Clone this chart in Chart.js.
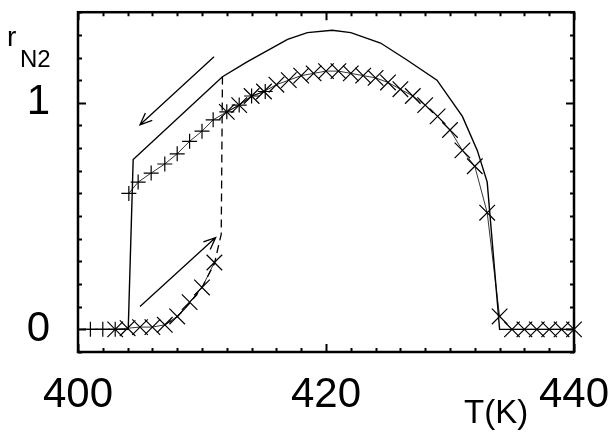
<!DOCTYPE html>
<html>
<head>
<meta charset="utf-8">
<script src="https://cdn.jsdelivr.net/npm/chart.js@4.4.0/dist/chart.umd.min.js"></script>
<style>
    html, body { margin: 0; padding: 0; background: #fff; }
    canvas { display: block; }
</style>
</head>
<body>
<canvas id="rn2-chart" width="608" height="432"></canvas>
<script>
// Simulated curve (solid line)
const simTemp = [400, 404.05, 404.45, 411.65, 413.6, 416.9, 418.5, 420.5, 422, 424.4, 426.5, 428.95, 431, 432.2, 433, 434, 440];
const simR    = [0, 0, 0.75, 1.115, 1.18, 1.28, 1.31, 1.32, 1.31, 1.264, 1.19, 1.10, 0.94, 0.79, 0.65, 0, 0];

// Heating jump (dashed line)
const jumpTemp = [407, 408, 409, 410, 411, 411.55, 411.65];
const jumpR    = [0.02, 0.055, 0.115, 0.185, 0.29, 0.42, 1.115];

// Cooling points (+), null marks a break in the thin line
const coolTemp = [401, 402, 403, 403.5, 404.1, 404.85, 405.9, 407, 408, 409, 410, 410.9, 412, 413, 414, 415.1];
const coolR    = [0, 0, 0, null, 0.60, 0.65, 0.69, 0.73, 0.775, 0.83, 0.875, 0.925, 0.96, 0.99, 1.03, 1.05];

// Heating points (x)
const heatTemp = [403, 404, 405, 406, 407, 408, 409, 410, 411, 411.5, 412, 413, 414, 415, 416, 417, 418, 419, 420, 421, 422,
                  423, 424, 425, 426, 427, 428, 429, 430, 431, 432, 433, 434, 435, 436, 437, 438, 439, 440];
const heatR    = [0, 0.005, 0.01, 0.01, 0.02, 0.057, 0.12, 0.185, 0.295, null, 0.96, 0.99, 1.03, 1.05, 1.08, 1.10, 1.12, 1.13, 1.14, 1.14, 1.13,
                  1.12, 1.11, 1.09, 1.06, 1.03, 0.99, 0.94, 0.88, 0.79, 0.72, 0.515, 0.057, 0, 0, 0, 0, 0, 0];

// Axis ticks
const xMajor = [400, 420, 440];
const yMajor = [0, 1];

// Arrows [fromT, fromR, toT, toR]
const arrowCool = [410.97, 1.203, 405.0, 0.903];
const arrowHeat = [405.0, 0.101, 411.1, 0.405];

const FONT = '"Liberation Sans", Arial, Helvetica, sans-serif';

class RN2Chart {
    constructor() {
        this.chart = null;
    }

    toPoints(xs, ys) {
        return xs.map((x, i) => ({ x: x, y: ys[i] }));
    }

    isOneOf(v, list) {
        return list.some(m => Math.abs(v - m) < 1e-6);
    }

    // Fixed scale sizes, no extra label padding
    fitScale(size) {
        return s => {
            if (s.isHorizontal()) s.height = size; else s.width = size;
            s.paddingLeft = 0;
            s.paddingRight = 0;
            s.paddingTop = 0;
            s.paddingBottom = 0;
        };
    }

    // Frame, inward ticks, arrows and axis titles
    framePlugin() {
        const self = this;
        return {
            id: 'frame',
            afterDatasetsDraw(chart) {
                const ctx = chart.ctx;
                const a = chart.chartArea;
                const xs = chart.scales.x;
                const ys = chart.scales.y;
                ctx.save();
                ctx.strokeStyle = '#000';
                ctx.lineWidth = 2;
                ctx.beginPath();
                for (let t = 400; t <= 440.001; t += 2) {
                    const px = Math.round(xs.getPixelForValue(t)) + 0.5;
                    const len = self.isOneOf(t, xMajor) ? 8 : 4;
                    ctx.moveTo(px, a.bottom); ctx.lineTo(px, a.bottom - len);
                    ctx.moveTo(px, a.top); ctx.lineTo(px, a.top + len);
                }
                for (let k = -1; k <= 14; k++) {
                    const v = k / 10;
                    const py = Math.round(ys.getPixelForValue(v)) + 0.5;
                    const len = self.isOneOf(v, yMajor) ? 8 : 4;
                    ctx.moveTo(a.left, py); ctx.lineTo(a.left + len, py);
                    ctx.moveTo(a.right, py); ctx.lineTo(a.right - len, py);
                }
                ctx.stroke();
                ctx.lineWidth = 2.5;
                ctx.strokeRect(a.left, a.top, a.right - a.left, a.bottom - a.top);

                // arrows
                ctx.lineWidth = 1.3;
                [arrowCool, arrowHeat].forEach(arr => {
                    const x0 = xs.getPixelForValue(arr[0]), y0 = ys.getPixelForValue(arr[1]);
                    const x1 = xs.getPixelForValue(arr[2]), y1 = ys.getPixelForValue(arr[3]);
                    const ang = Math.atan2(y1 - y0, x1 - x0);
                    const head = 13, spread = 0.4;
                    ctx.beginPath();
                    ctx.moveTo(x0, y0); ctx.lineTo(x1, y1);
                    ctx.moveTo(x1 - head * Math.cos(ang - spread), y1 - head * Math.sin(ang - spread));
                    ctx.lineTo(x1, y1);
                    ctx.lineTo(x1 - head * Math.cos(ang + spread), y1 - head * Math.sin(ang + spread));
                    ctx.stroke();
                });

                // axis titles
                ctx.fillStyle = '#000';
                ctx.textBaseline = 'alphabetic';
                ctx.textAlign = 'left';
                ctx.font = '28px ' + FONT;
                ctx.fillText('r', 7, 46);
                ctx.font = '24px ' + FONT;
                ctx.fillText('N2', 20, 67);
                ctx.font = '33px ' + FONT;
                ctx.fillText('T(K)', 464, 423);
                ctx.restore();
            }
        };
    }

    render() {
        const ctx = document.getElementById('rn2-chart');
        if (!ctx) return;
        if (this.chart) {
            this.chart.destroy();
        }

        this.chart = new Chart(ctx, {
            type: 'line',
            data: {
                datasets: [
                    {
                        label: 'simulation',
                        data: this.toPoints(simTemp, simR),
                        borderColor: '#000',
                        borderWidth: 1.4,
                        pointRadius: 0,
                        tension: 0
                    },
                    {
                        label: 'heating jump',
                        data: this.toPoints(jumpTemp, jumpR),
                        borderColor: '#000',
                        borderWidth: 1.3,
                        borderDash: [8, 5],
                        pointRadius: 0,
                        tension: 0
                    },
                    {
                        label: 'cooling',
                        data: this.toPoints(coolTemp, coolR),
                        borderColor: '#000',
                        borderWidth: 0.8,
                        pointStyle: 'cross',
                        pointRadius: 7.5,
                        pointBorderWidth: 1.2,
                        pointBorderColor: '#000',
                        spanGaps: false
                    },
                    {
                        label: 'heating',
                        data: this.toPoints(heatTemp, heatR),
                        borderColor: '#000',
                        borderWidth: 0.8,
                        pointStyle: 'crossRot',
                        pointRadius: 11,
                        pointBorderWidth: 1.2,
                        pointBorderColor: '#000',
                        spanGaps: false
                    }
                ]
            },
            options: {
                responsive: false,
                animation: false,
                clip: false,
                layout: { padding: { top: 12, right: 34, left: 0, bottom: 0 } },
                plugins: {
                    legend: { display: false },
                    tooltip: { enabled: false }
                },
                scales: {
                    x: {
                        type: 'linear',
                        min: 400,
                        max: 440,
                        afterFit: this.fitScale(80),
                        grid: { display: false, drawTicks: false },
                        border: { display: false },
                        ticks: {
                            stepSize: 2,
                            autoSkip: false,
                            maxRotation: 0,
                            padding: 18,
                            color: '#000',
                            font: { family: FONT, size: 42 },
                            callback: v => (this.isOneOf(v, xMajor) ? String(v) : '')
                        }
                    },
                    y: {
                        min: -0.1,
                        max: 1.4,
                        afterFit: this.fitScale(78),
                        grid: { display: false, drawTicks: false },
                        border: { display: false },
                        ticks: {
                            stepSize: 0.1,
                            autoSkip: false,
                            padding: 28,
                            color: '#000',
                            font: { family: FONT, size: 42 },
                            callback: v => (this.isOneOf(v, yMajor) ? String(Math.round(v)) : '')
                        }
                    }
                }
            },
            plugins: [this.framePlugin()]
        });
    }
}

window.rn2Chart = new RN2Chart();
window.rn2Chart.render();
</script>
</body>
</html>
